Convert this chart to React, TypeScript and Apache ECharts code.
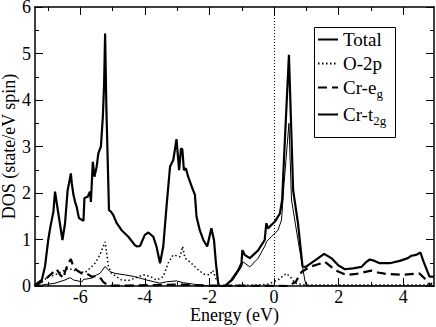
import React, { useEffect, useRef } from "react";
import * as echarts from "echarts";

const totalE = [-7.4,-7.19,-7.09,-6.99,-6.93,-6.83,-6.78,-6.68,-6.55,-6.47,-6.39,-6.35,-6.29,-6.26,-6.21,-6.16,-6.11,-6.04,-5.9,-5.87,-5.77,-5.7,-5.67,-5.61,-5.56,-5.49,-5.44,-5.36,-5.3,-5.26,-5.23,-5.19,-5.11,-5.05,-4.98,-4.87,-4.72,-4.51,-4.31,-4.25,-4.15,-4.0,-3.89,-3.74,-3.64,-3.53,-3.43,-3.33,-3.22,-3.17,-3.12,-3.02,-2.94,-2.88,-2.84,-2.79,-2.73,-2.66,-2.55,-2.45,-2.4,-2.3,-2.19,-2.07,-1.94,-1.86,-1.8,-1.73,-1.7,-1.52,-1.32,-1.11,-1.01,-0.98,-0.91,-0.75,-0.49,-0.29,-0.24,-0.19,0.02,0.18,0.25,0.31,0.46,0.59,0.74,0.88,0.98,1.29,1.55,1.77,1.98,2.19,2.44,2.7,2.86,2.96,3.11,3.27,3.58,3.89,4.14,4.25,4.4,4.53,4.63,4.81,4.95];
const totalDOS = [0.02,0.13,0.42,0.99,1.25,1.6,2.03,1.57,0.99,1.35,2.06,2.2,2.42,2.2,1.96,1.81,1.7,1.46,1.4,1.89,1.92,2.03,1.81,2.67,2.35,2.57,2.85,3.0,3.64,4.36,5.43,3.8,1.63,1.6,1.53,1.35,1.2,1.06,0.88,0.85,0.86,1.1,1.15,1.06,0.85,0.49,0.85,1.7,2.57,2.64,2.71,3.16,2.49,2.96,2.94,2.49,2.53,2.35,2.14,1.96,1.49,1.2,0.99,0.85,1.24,0.99,0.49,0.06,0,0,0.13,0.34,0.49,0.77,0.67,0.6,0.77,0.99,1.35,1.24,1.38,1.56,1.85,2.78,4.97,2.06,1.35,0.42,0.41,0.56,0.69,0.6,0.45,0.36,0.38,0.41,0.52,0.57,0.54,0.49,0.49,0.54,0.6,0.65,0.67,0.72,0.52,0.2,0.2];

const o2pE = [-7.4,-7.19,-6.99,-6.78,-6.37,-6.06,-5.85,-5.7,-5.54,-5.39,-5.23,-5.18,-5.13,-5.03,-4.72,-4.5,-4.2,-4.05,-3.84,-3.64,-3.43,-3.28,-3.12,-2.91,-2.83,-2.76,-2.61,-2.4,-2.19,-1.99,-1.9,-1.78,-1.68,-0.5,-0.19,0.12,0.38,0.54,0.64,0.95,4.7,4.85,4.95];
const o2pDOS = [0,0.09,0.2,0.24,0.38,0.31,0.29,0.38,0.49,0.67,0.95,0.7,0.42,0.27,0.13,0.12,0.2,0.24,0.21,0.13,0.2,0.49,0.67,0.63,0.85,0.6,0.52,0.38,0.26,0.24,0.34,0.13,0.01,0.02,0.04,0.13,0.27,0.17,0.06,0.02,0.02,0.06,0.02];

const egE = [-7.4,-7.35,-7.04,-6.88,-6.73,-6.62,-6.51,-6.47,-6.37,-6.29,-6.21,-6.11,-5.95,-5.8,-5.64,-5.54,-5.39,-5.29,-5.13,-4.5,-3.0,-2.0,0.5,0.59,0.67,0.85,1.1,1.47,1.57,1.77,1.98,2.24,2.55,2.86,3.01,3.22,3.47,3.99,4.5,4.71,4.87,4.95];
const egDOS = [0,0.02,0.17,0.27,0.36,0.24,0.17,0.31,0.49,0.58,0.41,0.34,0.27,0.27,0.2,0.21,0.19,0.09,0.01,0.01,0.03,0.01,0,0.06,0.09,0.3,0.41,0.49,0.52,0.41,0.31,0.24,0.26,0.31,0.33,0.29,0.26,0.24,0.27,0.13,0,0];

const t2gE = [-7.4,-7.19,-6.78,-6.47,-6.31,-6.21,-5.95,-5.9,-5.64,-5.49,-5.39,-5.23,-5.08,-4.92,-4.62,-4.31,-3.95,-3.53,-3.33,-3.02,-2.81,-2.5,-2.19,-2.0,-1.52,-1.27,-1.01,-0.96,-0.75,-0.49,-0.27,-0.24,-0.08,0.12,0.23,0.31,0.46,0.54,0.74,0.95,1.0,4.95];
const t2gDOS = [0,0.02,0.06,0.13,0.18,0.13,0.09,0.14,0.17,0.24,0.27,0.42,0.31,0.27,0.24,0.2,0.13,0.06,0.09,0.11,0.07,0.04,0.01,0,0,0.13,0.41,0.52,0.41,0.6,0.88,0.95,1.06,1.2,1.42,2.21,3.5,1.85,0.99,0.13,0,0];

const xMajorTicks = [-6, -4, -2, 0, 2, 4];
const xMinorTicks = [-7, -5, -3, -1, 1, 3];
const legendNames = ["Total", "O-2p", "Cr-eg", "Cr-t2g"];

const FONT = "'Liberation Serif', serif";

const zip = (xs: number[], ys: number[]) => xs.map((x, i) => [x, ys[i]]);

export default function App() {
  const ref = useRef<HTMLDivElement>(null);
  useEffect(() => {
    if (!ref.current) return;
    const chart = echarts.init(ref.current, null, { renderer: "svg" });
    const axisLine = { show: true, onZero: false, lineStyle: { color: "#000", width: 1.5 } };
    const noLine = { show: false, onZero: false };
    const xBase = {
      type: "value" as const,
      min: -7.4,
      max: 4.95,
      splitLine: { show: false },
      axisLine,
    };
    const option: any = {
      animation: false,
      backgroundColor: "#fff",
      grid: { left: 35, right: 2, top: 7, bottom: 41, containLabel: false, outerBoundsMode: "none" },
      graphic: [
        {
          type: "rect",
          z: 100,
          silent: true,
          shape: { x: 314.5, y: 27.5, width: 81, height: 110 },
          style: { fill: "none", stroke: "#000", lineWidth: 1 },
        },
      ],
      xAxis: [
        {
          ...xBase,
          position: "bottom",
          name: "Energy (eV)",
          nameLocation: "middle",
          nameGap: 21,
          nameMoveOverlap: false,
          nameTextStyle: { fontFamily: FONT, fontSize: 18, color: "#000", lineHeight: 16 },
          axisTick: { show: true, inside: true, length: 8, customValues: xMajorTicks, lineStyle: { color: "#000", width: 1 } },
          axisLabel: { show: true, customValues: xMajorTicks, fontFamily: FONT, fontSize: 18, color: "#000", margin: 5, lineHeight: 12 },
        },
        {
          ...xBase,
          position: "bottom",
          axisLine: noLine,
          axisTick: { show: true, inside: true, length: 4, customValues: xMinorTicks, lineStyle: { color: "#000", width: 1 } },
          axisLabel: { show: false },
        },
        {
          ...xBase,
          position: "top",
          axisTick: { show: true, inside: true, length: 8, customValues: xMajorTicks, lineStyle: { color: "#000", width: 1 } },
          axisLabel: { show: false },
        },
        {
          ...xBase,
          position: "top",
          axisLine: noLine,
          axisTick: { show: true, inside: true, length: 4, customValues: xMinorTicks, lineStyle: { color: "#000", width: 1 } },
          axisLabel: { show: false },
        },
      ],
      yAxis: [
        {
          type: "value",
          min: 0,
          max: 6,
          interval: 1,
          position: "left",
          name: "DOS (state/eV spin)",
          nameLocation: "middle",
          nameGap: 18,
          nameMoveOverlap: false,
          nameTextStyle: { fontFamily: FONT, fontSize: 18, color: "#000", lineHeight: 16 },
          axisLine,
          splitLine: { show: false },
          axisTick: { show: true, inside: true, length: 8, lineStyle: { color: "#000", width: 1 } },
          minorTick: { show: true, splitNumber: 2, length: 4, lineStyle: { color: "#000", width: 1 } },
          axisLabel: { fontFamily: FONT, fontSize: 18, color: "#000", margin: 4, lineHeight: 12 },
        },
        {
          type: "value",
          min: 0,
          max: 6,
          interval: 1,
          position: "right",
          axisLine,
          splitLine: { show: false },
          axisTick: { show: true, inside: true, length: 8, lineStyle: { color: "#000", width: 1 } },
          minorTick: { show: true, splitNumber: 2, length: 4, lineStyle: { color: "#000", width: 1 } },
          axisLabel: { show: false },
        },
      ],
      legend: {
        data: legendNames,
        orient: "vertical",
        left: 314,
        top: 27,
        padding: [3, 4, 4, 3],
        itemGap: 5,
        itemWidth: 20,
        itemHeight: 18,
        borderWidth: 0,
        backgroundColor: "rgba(0,0,0,0)",
        itemStyle: { color: "rgba(0,0,0,0)", borderWidth: 0, opacity: 0 },
        textStyle: {
          fontFamily: FONT,
          fontSize: 19,
          color: "#000",
          rich: {
            n: { fontFamily: FONT, fontSize: 19, color: "#000" },
            s: { fontFamily: FONT, fontSize: 13, color: "#000", padding: [12, 0, 0, 0] },
          },
        },
        formatter: (name: string) => {
          if (name === "Cr-eg") return "{n|Cr-e}{s|g}";
          if (name === "Cr-t2g") return "{n|Cr-t}{s|2g}";
          return "{n|" + name + "}";
        },
      },
      series: [
        {
          name: "Total",
          type: "line",
          data: zip(totalE, totalDOS),
          showSymbol: false,
          symbol: "none",
          lineStyle: { color: "#000", width: 2.2 },
          itemStyle: { color: "#000" },
          z: 5,
          markLine: {
            silent: true,
            symbol: "none",
            label: { show: false },
            lineStyle: { color: "#000", width: 1, type: [1, 2] },
            data: [{ xAxis: 0 }],
          },
        },
        {
          name: "O-2p",
          type: "line",
          data: zip(o2pE, o2pDOS),
          showSymbol: false,
          symbol: "none",
          lineStyle: { color: "#000", width: 1.5, type: [1.5, 2.5] },
          itemStyle: { color: "#000" },
        },
        {
          name: "Cr-eg",
          type: "line",
          data: zip(egE, egDOS),
          showSymbol: false,
          symbol: "none",
          lineStyle: { color: "#000", width: 2.2, type: [9, 5] },
          itemStyle: { color: "#000" },
        },
        {
          name: "Cr-t2g",
          type: "line",
          data: zip(t2gE, t2gDOS),
          showSymbol: false,
          symbol: "none",
          lineStyle: { color: "#000", width: 1 },
          itemStyle: { color: "#000" },
        },
      ],
    };
    chart.setOption(option);
    return () => chart.dispose();
  }, []);
  return <div ref={ref} style={{ width: 436, height: 327, position: "absolute", left: 0, top: 0 }} />;
}
